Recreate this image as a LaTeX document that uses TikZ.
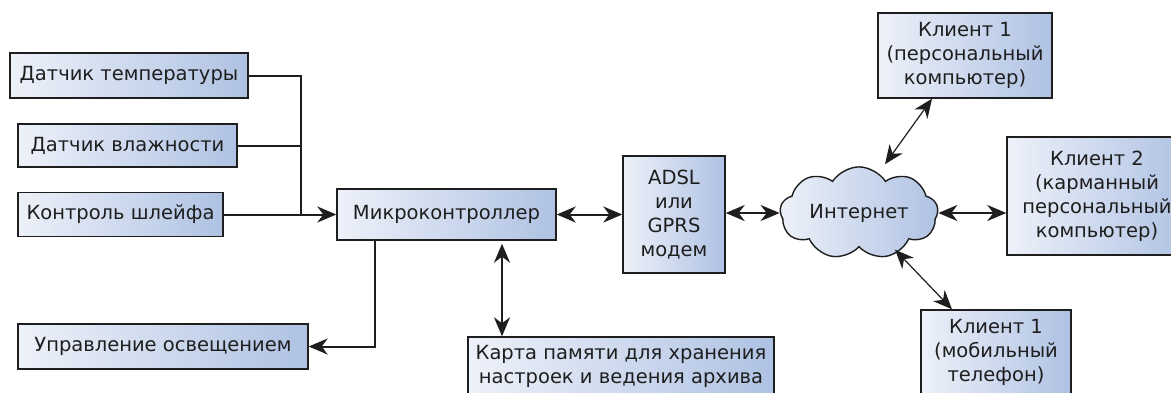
\documentclass[tikz,border=0pt]{standalone}
\usepackage{fontspec}
\setmainfont{DejaVu Sans}
\usetikzlibrary{arrows.meta,shapes.symbols}
\definecolor{boxleft}{HTML}{EDF1F9}
\definecolor{boxright}{HTML}{AFC2E3}
\definecolor{edge}{HTML}{1E1E1E}

\begin{document}
\begin{tikzpicture}[x=1pt,y=-1pt,
    >={Stealth[length=19pt,width=16pt,inset=6pt]},
    block/.style={draw=edge, line width=1.4pt, left color=boxleft, right color=boxright,
      inner sep=0pt, align=center, text=edge, font=\fontsize{19.5}{24}\selectfont},
    wire/.style={draw=edge, line width=2pt},
    link/.style={wire, ->},
    dlink/.style={wire, <->},
    slink/.style={draw=edge, line width=1.2pt, <->}]
    \useasboundingbox (0,0) rectangle (1171,392);
    \clip (0,0) rectangle (1171,392);

    % датчики
    \node[block, minimum width=238pt, minimum height=45pt] (temp) at (129,75.5) {Датчик температуры};
    \node[block, minimum width=219pt, minimum height=43pt] (hum) at (127.5,145.5) {Датчик влажности};
    \node[block, minimum width=205pt, minimum height=44pt] (loop) at (120.5,214.5) {Контроль шлейфа};

    % микроконтроллер и периферия
    \node[block, minimum width=219pt, minimum height=51pt] (micro) at (446.5,214.5) {Микроконтроллер};
    \node[block, minimum width=290pt, minimum height=45pt] (light) at (163,346.5) {Управление освещением};
    \node[block, minimum width=306pt, minimum height=59pt] (card) at (621,366.5)
      {Карта памяти для хранения\\настроек и ведения архива};
    \node[block, minimum width=102pt, minimum height=117pt] (modem) at (674,214.5)
      {ADSL\\или\\GPRS\\модем};

    % сеть и клиенты
    \node[block, cloud, cloud puffs=9, cloud puff arc=115, aspect=2,
      minimum width=158pt, minimum height=80pt] (net) at (859,213) {Интернет};
    \node[block, minimum width=174pt, minimum height=85pt] (pc) at (965,55.5)
      {Клиент 1\\(персональный\\компьютер)};
    \node[block, minimum width=180pt, minimum height=118pt] (pda) at (1097,196)
      {Клиент 2\\(карманный\\персональный\\компьютер)};
    \node[block, minimum width=150pt, minimum height=84pt] (phone) at (996,352)
      {Клиент 1\\(мобильный\\телефон)};

    % шина датчиков
    \coordinate (bus) at (301,214.5);
    \draw[wire] (temp.east) -| (bus);
    \draw[wire] (hum.east) -- (hum.east -| bus);
    \draw[wire] (loop.east) -- (bus);
    \draw[link] (bus) -- (micro.west);

    % связи
    \draw[link] ([xshift=-71.5pt]micro.south) |- (light.east);
    \draw[dlink] ([xshift=55.5pt,yshift=-3pt]micro.south) -- ([xshift=55.5pt]micro.south |- card.north);
    \draw[dlink] (micro.east) -- (modem.west);
    \draw[dlink] (net.west -| modem.east) -- (net.west);
    \draw[dlink] (net.east) -- (net.east -| pda.west);
    \draw[slink] ([xshift=26pt,yshift=2pt]net.north) -- ([xshift=-33pt]pc.south);
    \draw[slink] ([xshift=36pt,yshift=-2pt]net.south) -- ([xshift=-44pt]phone.north);
\end{tikzpicture}
\end{document}
